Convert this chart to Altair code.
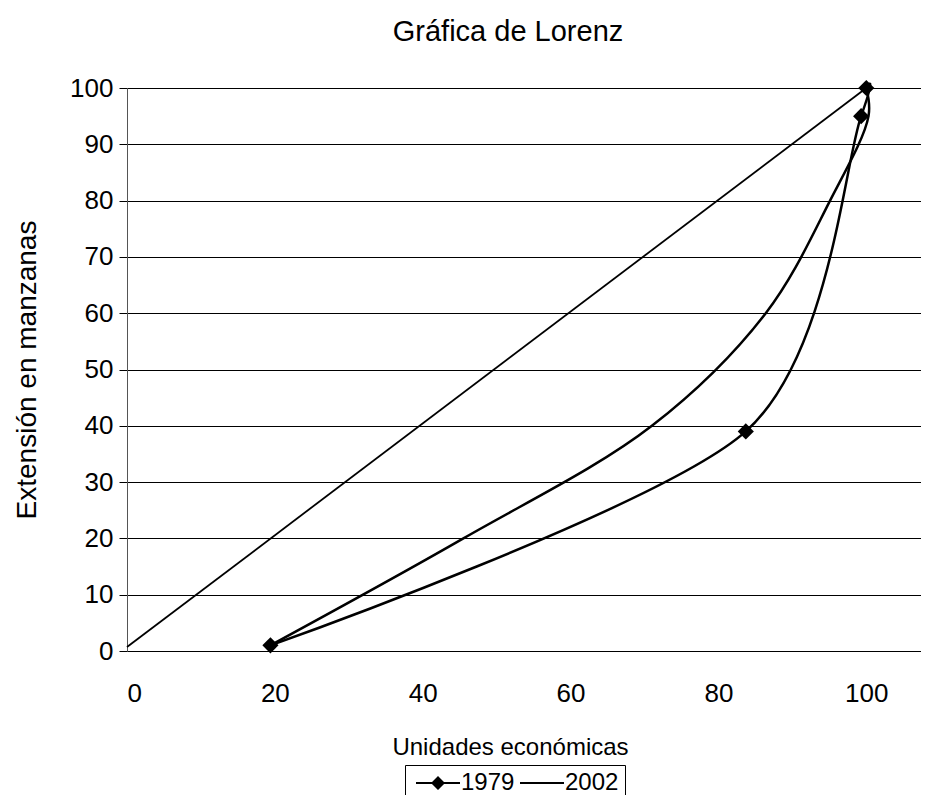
import altair as alt
import pandas as pd

# ---- data ----
series = ["1979", "2002"]
x_1979 = [19.4, 83.7, 99.3, 100.0]
y_1979 = [1.0, 39.0, 95.0, 100.0]
x_2002 = [19.4, 45.5, 71.0, 86.4, 95.1, 100.3, 100.0]
y_2002 = [1.0, 20.0, 40.0, 60.0, 80.0, 95.0, 100.0]
x_equal = [0.0, 100.0]
y_equal = [0.7, 100.0]
x_ticks = [0, 20, 40, 60, 80, 100]
y_ticks = [0, 10, 20, 30, 40, 50, 60, 70, 80, 90, 100]

FONT = "Liberation Sans"

df_1979 = pd.DataFrame({"x": x_1979, "y": y_1979, "serie": "1979", "orden": range(len(x_1979))})
df_2002 = pd.DataFrame({"x": x_2002, "y": y_2002, "serie": "2002", "orden": range(len(x_2002))})
df_curves = pd.concat([df_1979, df_2002], ignore_index=True)
df_equal = pd.DataFrame({"x": x_equal, "y": y_equal})

x_scale = alt.Scale(domain=[0, 107.4], nice=False, zero=False)
y_scale = alt.Scale(domain=[0, 100], nice=False)

x_enc = alt.X(
    "x:Q", scale=x_scale,
    axis=alt.Axis(values=x_ticks, grid=False, ticks=False, labelPadding=29,
                  labelFontSize=26,
                  title="Unidades económicas", titleFontSize=24, titlePadding=29,
                  titleX=383,
                  domainColor="black", domainWidth=1),
)
y_enc = alt.Y(
    "y:Q", scale=y_scale,
    axis=alt.Axis(values=y_ticks, grid=True, gridColor="black", gridWidth=1,
                  tickSize=8, tickColor="black", labelPadding=6,
                  labelFontSize=26,
                  domainColor="#555555", domainWidth=1,
                  title="Extensión en manzanas", titleFontSize=28, titlePadding=28),
)

equal_line = alt.Chart(df_equal).mark_line(color="black", strokeWidth=1.8).encode(
    x=x_enc, y=y_enc
)

curve_1979 = alt.Chart(df_1979).mark_line(
    interpolate="cardinal", tension=0.15, color="black", strokeWidth=2.5
).encode(x="x:Q", y="y:Q", order="orden:Q")

curve_2002 = alt.Chart(df_2002).mark_line(
    interpolate="catmull-rom", color="black", strokeWidth=2.5
).encode(x="x:Q", y="y:Q", order="orden:Q")

markers = alt.Chart(df_1979).mark_point(
    shape="diamond", filled=True, color="black", size=260, opacity=1
).encode(x="x:Q", y="y:Q")

# legend symbols: a thin bar (line) with / without a diamond
path_1979 = "M-2.2,-0.1H2.2V0.1H-2.2ZM-0.7,0L0,-0.7L0.7,0L0,0.7Z"
path_2002 = "M-2.2,-0.1H2.2V0.1H-2.2Z"

legend_layer = alt.Chart(df_curves).transform_filter("false").mark_point(
    filled=True, color="black", opacity=1
).encode(
    x="x:Q", y="y:Q",
    shape=alt.Shape(
        "serie:N",
        scale=alt.Scale(domain=series, range=[path_1979, path_2002]),
        legend=alt.Legend(
            title=None, orient="none", legendX=278, legendY=677,
            direction="horizontal", columns=2,
            symbolSize=400, symbolOffset=15, labelOffset=11,
            symbolOpacity=1, symbolFillColor="black", symbolStrokeWidth=0,
            labelFontSize=24, labelFont=FONT, labelColor="black",
            padding=6, strokeColor="black", fillColor="white",
            columnPadding=0, labelLimit=200,
        ),
    ),
)

chart = alt.layer(equal_line, curve_1979, curve_2002, markers, legend_layer).properties(
    width=794,
    height=563,
    title=alt.TitleParams("Gráfica de Lorenz", fontSize=29, font=FONT,
                          fontWeight="normal", color="black", anchor="middle",
                          offset=28, dx=-16),
    autosize=alt.AutoSizeParams(type="none"),
    padding={"left": 119, "top": 80, "right": 0, "bottom": 144},
).configure_view(stroke=None).configure_axis(
    labelFont=FONT, titleFont=FONT,
    labelColor="black", titleColor="black", titleFontWeight="normal",
)

chart.save("out.html", embed_options={"renderer": "svg", "actions": False})
